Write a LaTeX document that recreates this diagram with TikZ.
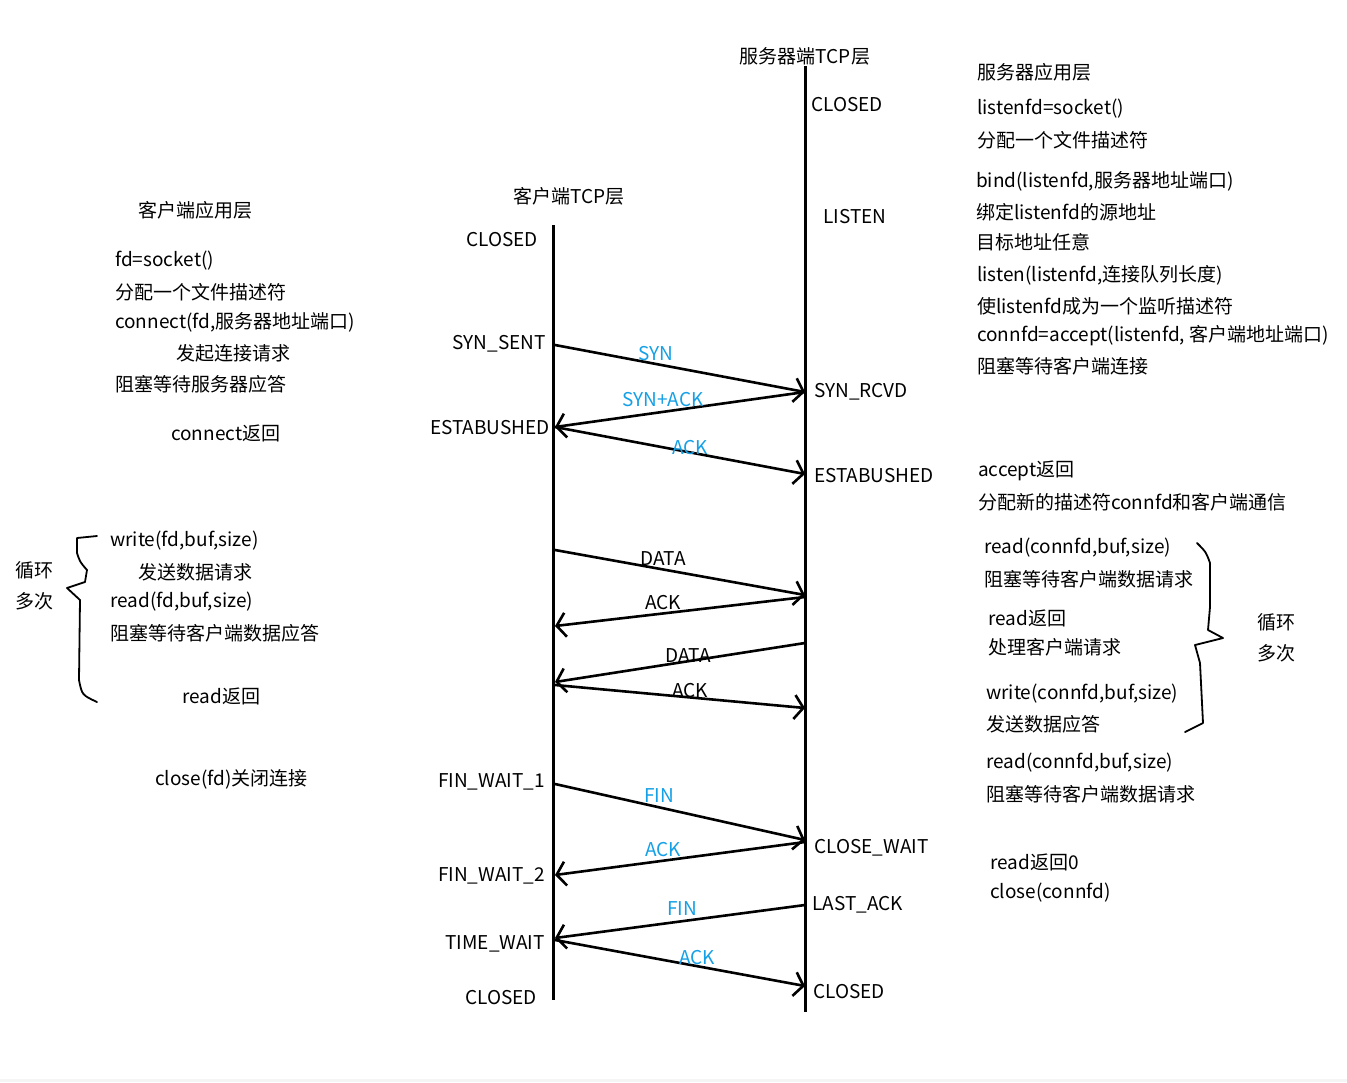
\documentclass[tikz,border=0pt]{standalone}
\usepackage{fontspec}
\setmainfont{Noto Sans CJK SC}
\usetikzlibrary{arrows.meta}
\definecolor{lblue}{RGB}{20,160,230}
\newcommand{\fs}{\fontsize{19}{23}\selectfont}
\begin{document}
\begin{tikzpicture}[x=1pt,y=-1pt,
  txt/.style={anchor=west,inner sep=0pt,font=\fs},
  txr/.style={anchor=east,inner sep=0pt,font=\fs},
  lbl/.style={inner sep=0pt,font=\fs,text=lblue},
  lblk/.style={inner sep=0pt,font=\fs},
  life/.style={line width=3pt},
  msg/.style={line width=2.6pt,-{Straight Barb[length=9pt,width=24pt,line width=2.6pt]}},
  brace/.style={line width=1.8pt,line join=round,line cap=round}]
\useasboundingbox[fill=white] (0,0) rectangle (1347,1082);
\fill[gray!8] (0,1079) rectangle (1347,1082);
% lifelines
\coordinate (ct) at (553,225); \coordinate (cb) at (553,1000);
\coordinate (st) at (805,66);  \coordinate (sb) at (805,1012);
\draw[life] (ct) -- (cb);
\draw[life] (st) -- (sb);
% headers
\node[lblk] (shead) at (805,56) {服务器端TCP层};
\node[lblk] (chead) at (569,196) {客户端TCP层};
% server states
\node[txt] (s1) at (811,105) {CLOSED};
\node[txt] (s2) at (823,217) {LISTEN};
\node[txt] (s3) at (814,392) {SYN\_RCVD};
\node[txt] (s4) at (814,476) {ESTABUSHED};
\node[txt] (s5) at (814,848) {CLOSE\_WAIT};
\node[txt] (s6) at (812,905) {LAST\_ACK};
\node[txt] (s7) at (813,992) {CLOSED};
% client states
\node[txr] (c1) at (538,240) {CLOSED};
\node[txr] (c2) at (546,344) {SYN\_SENT};
\node[txr] (c3) at (550,428) {ESTABUSHED};
\node[txr] (c4) at (545,782) {FIN\_WAIT\_1};
\node[txr] (c5) at (545,876) {FIN\_WAIT\_2};
\node[txr] (c6) at (545,944) {TIME\_WAIT};
\node[txr] (c7) at (537,998) {CLOSED};
% client app
\node[txt] (a0) at (138,210) {客户端应用层};
\node[txt] (a1) at (115,261) {fd=socket()};
\node[txt] (a2) at (115,292) {分配一个文件描述符};
\node[txt] (a3) at (115,322) {connect(fd,服务器地址端口)};
\node[txt] (a4) at (176,353) {发起连接请求};
\node[txt] (a5) at (115,384) {阻塞等待服务器应答};
\node[txt] (a6) at (171,433) {connect返回};
\node[txt] (a7) at (110,541) {write(fd,buf,size)};
\node[txt] (a8) at (138,572) {发送数据请求};
\node[txt] (a9) at (110,602) {read(fd,buf,size)};
\node[txt] (a10) at (110,633) {阻塞等待客户端数据应答};
\node[txt] (a11) at (182,696) {read返回};
\node[txt] (a12) at (155,779) {close(fd)关闭连接};
\node[txt] (l1) at (15,570) {循环};
\node[txt] (l2) at (15,601) {多次};
% server app
\node[txt] (b0) at (977,72) {服务器应用层};
\node[txt] (b1) at (977,109) {listenfd=socket()};
\node[txt] (b2) at (977,140) {分配一个文件描述符};
\node[txt] (b3) at (976,181) {bind(listenfd,服务器地址端口)};
\node[txt] (b4) at (976,212) {绑定listenfd的源地址};
\node[txt] (b5) at (976,242) {目标地址任意};
\node[txt] (b6) at (977,275) {listen(listenfd,连接队列长度)};
\node[txt] (b7) at (977,306) {使listenfd成为一个监听描述符};
\node[txt] (b8) at (977,336) {connfd=accept(listenfd, 客户端地址端口)};
\node[txt] (b9) at (977,366) {阻塞等待客户端连接};
\node[txt] (b10) at (978,471) {accept返回};
\node[txt] (b11) at (978,502) {分配新的描述符connfd和客户端通信};
\node[txt] (b12) at (984,548) {read(connfd,buf,size)};
\node[txt] (b13) at (984,579) {阻塞等待客户端数据请求};
\node[txt] (b14) at (988,618) {read返回};
\node[txt] (b15) at (988,647) {处理客户端请求};
\node[txt] (b16) at (986,694) {write(connfd,buf,size)};
\node[txt] (b17) at (986,724) {发送数据应答};
\node[txt] (b18) at (986,763) {read(connfd,buf,size)};
\node[txt] (b19) at (986,794) {阻塞等待客户端数据请求};
\node[txt] (b20) at (990,862) {read返回0};
\node[txt] (b21) at (990,893) {close(connfd)};
\node[txt] (r1) at (1257,622) {循环};
\node[txt] (r2) at (1257,653) {多次};
% message endpoints
\coordinate (p1) at (555,345); \coordinate (q1) at (805,392);
\coordinate (p2) at (555,427); \coordinate (q2) at (805,474);
\coordinate (p3) at (555,550); \coordinate (q3) at (805,595);
\coordinate (p4) at (555,626); \coordinate (q4) at (805,597);
\coordinate (p5) at (555,682); \coordinate (q5) at (805,643);
\coordinate (p6) at (555,685); \coordinate (q6) at (805,708);
\coordinate (p7) at (555,784); \coordinate (q7) at (805,840);
\coordinate (p8) at (555,875); \coordinate (q8) at (805,842);
\coordinate (p9) at (555,938); \coordinate (q9) at (805,905);
\coordinate (p10) at (555,940); \coordinate (q10) at (805,986);
\draw[msg] (p1) -- (q1);
\draw[msg] (q1) -- (p2);
\draw[msg] (p2) -- (q2);
\draw[msg] (p3) -- (q3);
\draw[msg] (q4) -- (p4);
\draw[msg] (q5) -- (p5);
\draw[msg] (p6) -- (q6);
\draw[msg] (p7) -- (q7);
\draw[msg] (q8) -- (p8);
\draw[msg] (q9) -- (p9);
\draw[msg] (p10) -- (q10);
% message labels
\node[lbl] (m1) at (656,354) {SYN};
\node[lbl] (m2) at (663,400) {SYN+ACK};
\node[lbl] (m3) at (690,448) {ACK};
\node[lblk] (m4) at (663,559) {DATA};
\node[lblk] (m5) at (663,603) {ACK};
\node[lblk] (m6) at (688,656) {DATA};
\node[lblk] (m7) at (690,691) {ACK};
\node[lbl] (m8) at (659,796) {FIN};
\node[lbl] (m9) at (663,850) {ACK};
\node[lbl] (m10) at (682,909) {FIN};
\node[lbl] (m11) at (697,958) {ACK};
% braces
\draw[brace] (97,536) -- (77,538) -- (77,553) .. controls (80,562) .. (87,570) -- (85,582) -- (67,588) -- (80,600) -- (79,680) .. controls (82,695) .. (97,702);
\draw[brace] (1197,543) .. controls (1206,552) .. (1210,563) -- (1210,607) -- (1208,630) -- (1223,638) -- (1195,645) -- (1200,663) -- (1203,723) -- (1185,732);
\end{tikzpicture}
\end{document}
